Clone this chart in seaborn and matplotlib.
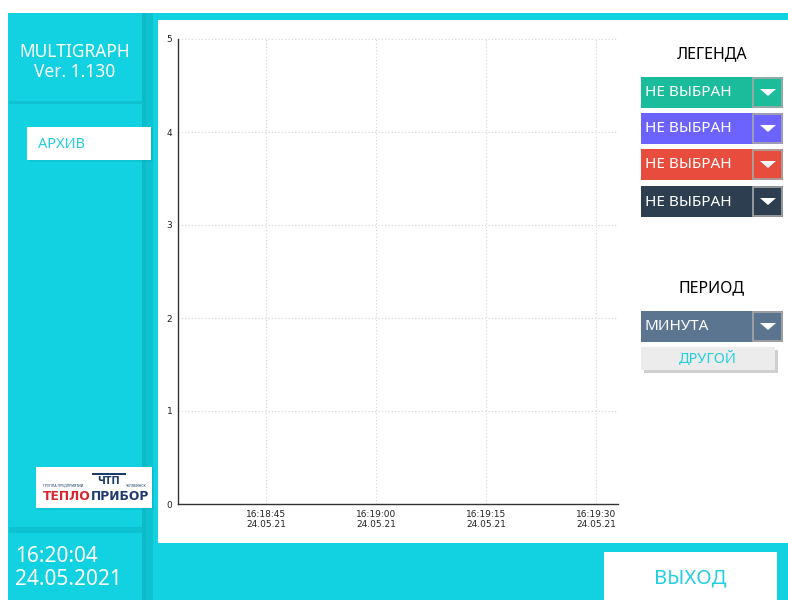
import matplotlib
matplotlib.use("Agg")
import matplotlib.pyplot as plt
import matplotlib.ticker as mticker
import matplotlib.dates as mdates
from matplotlib.patches import Rectangle, Polygon
import pandas as pd
import seaborn as sns

# chart data (nothing selected -> empty series)
series_names = ["НЕ ВЫБРАН", "НЕ ВЫБРАН", "НЕ ВЫБРАН", "НЕ ВЫБРАН"]
series_colors = ["#1abc9c", "#6c63ff", "#e74c3c", "#2c3e50"]
series_times = []
series_values = []

x_start = "2021-05-24 16:18:33"
x_end = "2021-05-24 16:19:33"
x_tick_times = ["2021-05-24 16:18:45", "2021-05-24 16:19:00",
                "2021-05-24 16:19:15", "2021-05-24 16:19:30"]
x_tick_labels = ["16:18:45\n24.05.21", "16:19:00\n24.05.21",
                 "16:19:15\n24.05.21", "16:19:30\n24.05.21"]
y_min, y_max = 0, 5
y_ticks = [0, 1, 2, 3, 4, 5]

period = "МИНУТА"
app_title = "MULTIGRAPH\nVer. 1.130"
clock_text = "16:20:04\n24.05.2021"

CYAN = "#12d1e0"
CYAN_DARK = "#0fc2d1"
CYAN_TEXT = "#22cfe1"
W, H = 788, 600

sns.set_style("white")
plt.rcParams["font.family"] = ["Noto Sans", "DejaVu Sans"]

fig = plt.figure(figsize=(W / 100, H / 100), dpi=100)
fig.patch.set_facecolor("white")


def rect(x0, y0, x1, y1, color, z=0, **kw):
    fig.patches.append(Rectangle((x0 / W, 1 - y1 / H), (x1 - x0) / W, (y1 - y0) / H,
                                 transform=fig.transFigure, facecolor=color,
                                 edgecolor=kw.pop("ec", "none"), zorder=z, **kw))


def txt(x, y, s, **kw):
    kw.setdefault("va", "center")
    kw.setdefault("zorder", 3)
    fig.text(x / W, 1 - y / H, s, **kw)


def arrow(x0, y0, x1, y1, z=2):
    pts = [(x0 / W, 1 - y0 / H), (x1 / W, 1 - y0 / H), ((x0 + x1) / 2 / W, 1 - y1 / H)]
    fig.patches.append(Polygon(pts, closed=True, transform=fig.transFigure,
                               facecolor="white", edgecolor="none", zorder=z))


# background frame
rect(8, 13, W, H, CYAN, z=0)
rect(142, 13, 153, H, CYAN_DARK, z=0.1)
rect(142, 13, 146, H, "#0eb9c8", z=0.11)
rect(9, 101, 142, 104, CYAN_DARK, z=0.1)
rect(9, 527, 142, 533, CYAN_DARK, z=0.1)
rect(158, 20, W, 543, "white", z=0.2)

# left panel
txt(75, 62, app_title, color="white", fontsize=12.5, ha="center", linespacing=1.15)
rect(29, 129, 153, 162, "#0aa8b6", z=0.3, alpha=0.3)
rect(27, 127, 151, 160, "white", z=0.4)
txt(38, 144, "АРХИВ", color=CYAN_TEXT, fontsize=10.5, ha="left")

# logo
rect(37, 469, 154, 510, "#0aa8b6", z=0.3, alpha=0.3)
rect(36, 467, 152, 508, "white", z=0.4)
rect(92, 473, 126, 475, "#1f3a6e", z=0.5)
txt(109, 481, "ЧТП", color="#1f3a6e", fontsize=7, ha="center", fontweight="bold",
    family=["DejaVu Sans"])
txt(43, 486, "ГРУППА ПРЕДПРИЯТИЙ", color="#1f3a6e", fontsize=2.5, ha="left")
txt(147, 486, "ЧЕЛЯБИНСК", color="#1f3a6e", fontsize=2.5, ha="right")
txt(91, 496, "ТЕПЛО", color="#d9262c", fontsize=8.8, ha="right", fontweight="bold",
    family=["DejaVu Sans"])
txt(91, 496, "ПРИБОР", color="#1f3a6e", fontsize=8.8, ha="left", fontweight="bold",
    family=["DejaVu Sans"])

txt(15, 568, clock_text, color="white", fontsize=15, ha="left", linespacing=1.15)

# legend dropdowns
txt(712, 54, "ЛЕГЕНДА", color="black", fontsize=11.5, ha="center")
rows = [77, 113, 149, 186]
for top, name, col in zip(rows, series_names, series_colors):
    rect(641, top, 783, top + 31, col, z=1)
    rect(753, top + 1, 782, top + 30, col, z=1.1, ec="#a8a8a8", lw=1.2)
    arrow(760, top + 12, 776, top + 19, z=1.2)
    txt(645, top + 16, name, color="white", fontsize=11, ha="left")

# period
txt(712, 288, "ПЕРИОД", color="black", fontsize=11.5, ha="center")
rect(641, 311, 783, 342, "#5b7590", z=1)
rect(753, 312, 782, 341, "#5b7590", z=1.1, ec="#a8a8a8", lw=1.2)
arrow(760, 323, 776, 330, z=1.2)
txt(645, 327, period, color="white", fontsize=11, ha="left")
rect(644, 350, 778, 373, "#cfcfcf", z=1)
rect(641, 347, 775, 370, "#ececec", z=1.1)
txt(708, 359, "ДРУГОЙ", color=CYAN_TEXT, fontsize=10.5, ha="center")

# exit button
rect(604, 552, 777, H, "white", z=1)
txt(690, 578, "ВЫХОД", color=CYAN_TEXT, fontsize=14.5, ha="center")

# chart
ax = fig.add_axes([178 / W, (H - 504) / H, (618 - 178) / W, (504 - 39) / H])
ax.set_zorder(2)
ax.patch.set_alpha(0)

df = pd.DataFrame({"time": pd.to_datetime(pd.Series(series_times, dtype="object")),
                   "value": pd.Series(series_values, dtype=float)})
if len(df):
    sns.lineplot(data=df, x="time", y="value", ax=ax)

ax.set_xlim(pd.Timestamp(x_start), pd.Timestamp(x_end))
ax.set_ylim(y_min, y_max)
ax.xaxis.set_major_locator(mticker.FixedLocator(mdates.date2num(pd.to_datetime(x_tick_times))))
ax.xaxis.set_major_formatter(mticker.FixedFormatter(x_tick_labels))
ax.xaxis.set_minor_locator(mdates.SecondLocator(interval=5))
ax.yaxis.set_major_locator(mticker.FixedLocator(y_ticks))
ax.yaxis.set_minor_locator(mticker.AutoMinorLocator(5))

ax.grid(True, which="major", color="#d4d4d4", linestyle=(0, (1, 2)), linewidth=0.8)
for s in ["top", "right"]:
    ax.spines[s].set_visible(False)
for s in ["left", "bottom"]:
    ax.spines[s].set_color("#333333")
    ax.spines[s].set_linewidth(1)
ax.tick_params(which="major", direction="in", length=4, width=1, color="#333333",
               labelsize=6.5, labelcolor="#222222", pad=4)
ax.tick_params(which="minor", direction="in", length=2, width=0.8, color="#333333")
for lab in ax.get_xticklabels() + ax.get_yticklabels():
    lab.set_family("DejaVu Sans")
ax.set_xlabel("")
ax.set_ylabel("")

fig.savefig("out.png", dpi=100)
